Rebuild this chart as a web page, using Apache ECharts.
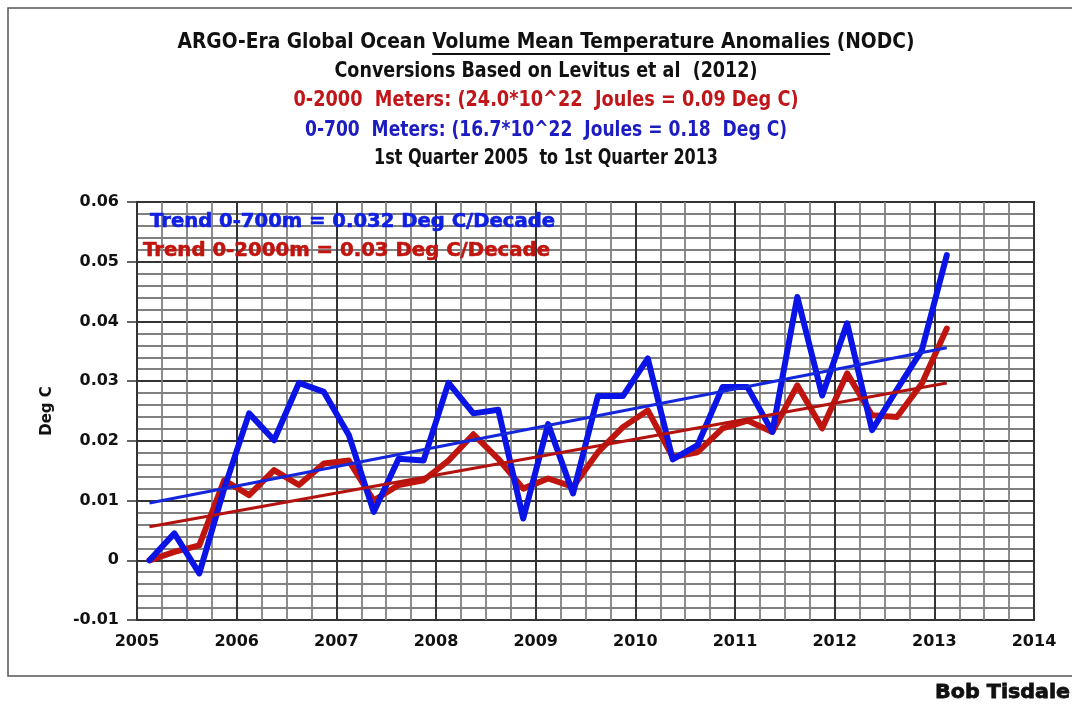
<!DOCTYPE html>
<html><head><meta charset="utf-8">
<script src="https://cdn.jsdelivr.net/npm/echarts@6/dist/echarts.min.js"></script>
<style>html,body{margin:0;padding:0;background:#fff}#c{width:1072px;height:706px}</style>
</head><body><div id="c"></div>
<script>
// Quarter mid-points (decimal years), 1st Quarter 2005 .. 1st Quarter 2013
const quarterYears = [2005.125,2005.375,2005.625,2005.875,2006.125,2006.375,2006.625,2006.875,
  2007.125,2007.375,2007.625,2007.875,2008.125,2008.375,2008.625,2008.875,
  2009.125,2009.375,2009.625,2009.875,2010.125,2010.375,2010.625,2010.875,
  2011.125,2011.375,2011.625,2011.875,2012.125,2012.375,2012.625,2012.875,2013.125];
// 0-700 m volume mean temperature anomaly (Deg C)
const anom700 = [0.000,0.0045,-0.0022,0.012,0.0246,0.0201,0.0297,0.0282,
  0.021,0.0081,0.0170,0.0167,0.0297,0.0246,0.0252,0.0070,
  0.0228,0.0112,0.0275,0.0275,0.0338,0.0169,0.0193,0.0290,
  0.0290,0.0215,0.0441,0.0276,0.0397,0.0218,0.0286,0.0352,0.0511];
// 0-2000 m volume mean temperature anomaly (Deg C)
const anom2000 = [0.000,0.0014,0.0025,0.0134,0.0109,0.0151,0.0126,0.0162,
  0.0167,0.0100,0.0126,0.0134,0.0167,0.0211,0.0170,0.0120,
  0.0137,0.0123,0.0181,0.0223,0.0251,0.0173,0.0181,0.0221,
  0.0234,0.0215,0.0293,0.0221,0.0313,0.0243,0.0240,0.0296,0.0388];
// Linear trend end points
const trendYears = [2005.125, 2013.125];
const trend700 = [0.0096, 0.0356];
const trend2000 = [0.0056, 0.0297];
// Axis ticks
const xTickYears = [2005,2006,2007,2008,2009,2010,2011,2012,2013,2014];
const yTicks = [-0.01,0,0.01,0.02,0.03,0.04,0.05,0.06];

const titleLines = [
  {text:'ARGO-Era Global Ocean Volume Mean Temperature Anomalies (NODC)', color:'#111', w:737, y:42},
  {text:'Conversions Based on Levitus et al  (2012)', color:'#111', w:423, y:71},
  {text:'0-2000  Meters: (24.0*10^22  Joules = 0.09 Deg C)', color:'#c0161a', w:505, y:100},
  {text:'0-700  Meters: (16.7*10^22  Joules = 0.18  Deg C)', color:'#1c1cc0', w:482, y:130},
  {text:'1st Quarter 2005  to 1st Quarter 2013', color:'#111', w:344, y:158}
];
const underlined = 'Volume Mean Temperature Anomalies';

const cv = document.createElement('canvas').getContext('2d');
function measure(text, font){ cv.font = font; return cv.measureText(text).width; }

const TFONT_FAMILY = '"Liberation Sans Narrow", "DejaVu Sans Condensed", "Noto Sans", sans-serif';
const TSIZE = 22;
const tFont = 'bold ' + TSIZE + 'px ' + TFONT_FAMILY;
const cx = 546;

const graphics = [];
titleLines.forEach((l, i) => {
  const mw = measure(l.text, tFont);
  const s = l.w / mw;
  graphics.push({type:'text', x:cx, y:l.y, scaleX:s, silent:true,
    style:{x:0, y:0, text:l.text, fill:l.color, font:tFont, align:'center', verticalAlign:'middle'}});
  if (i === 0) {
    const idx = l.text.indexOf(underlined);
    const pre = measure(l.text.slice(0, idx), tFont) * s;
    const uw = measure(underlined, tFont) * s;
    const x0 = cx - l.w/2 + pre;
    graphics.push({type:'line', silent:true, shape:{x1:x0, y1:l.y+12, x2:x0+uw, y2:l.y+12},
      style:{stroke:'#111', lineWidth:1.8}});
  }
});

const trFont = 'bold 19px "DejaVu Sans", Verdana, sans-serif';
const trendTexts = [
  {text:'Trend 0-700m = 0.032 Deg C/Decade', color:'#1020e0', x:150, y:222, w:405},
  {text:'Trend 0-2000m = 0.03 Deg C/Decade', color:'#c0140f', x:143, y:251, w:407}
];
trendTexts.forEach(t => {
  const s = t.w / measure(t.text, trFont);
  graphics.push({type:'text', x:t.x, y:t.y, scaleX:s, silent:true, z:100,
    style:{x:0, y:0, text:t.text, fill:t.color, font:trFont, align:'left', verticalAlign:'middle',
      stroke:t.color, lineWidth:0.6}});
});

// author
const aFont = 'bold 20px "DejaVu Sans", sans-serif';
const aS = 135 / measure('Bob Tisdale', aFont);
graphics.push({type:'text', x:1070, y:693, scaleX:aS, silent:true,
  style:{x:0, y:0, text:'Bob Tisdale', fill:'#111', font:aFont, align:'right', verticalAlign:'middle',
    stroke:'#111', lineWidth:0.8}});

// frame
graphics.push({type:'polyline', silent:true, shape:{points:[[1072,8],[8,8],[8,676],[1072,676]]},
  style:{stroke:'#555', lineWidth:1.5, fill:null}});

const xy = (xs, ys) => xs.map((x, i) => [x, ys[i]]);

const chart = echarts.init(document.getElementById('c'), null, {renderer:'canvas'});
chart.setOption({
  backgroundColor:'#fff',
  animation:false,
  grid:{left:137, right:38, top:202, bottom:86, show:true, borderColor:'#333', borderWidth:2, backgroundColor:'transparent'},
  xAxis:{
    type:'value', min:xTickYears[0], max:xTickYears[xTickYears.length-1], interval:1,
    axisLine:{show:true, lineStyle:{color:'#333', width:2}},
    axisTick:{show:false},
    axisLabel:{margin:14, color:'#111', fontWeight:'bold', fontSize:16, fontFamily:'"DejaVu Sans", Verdana, sans-serif',
      formatter:v => String(Math.round(v))},
    splitLine:{show:true, lineStyle:{color:'#333', width:2}},
    minorTick:{show:false, splitNumber:4},
    minorSplitLine:{show:true, lineStyle:{color:'#808080', width:1.8}}
  },
  yAxis:{
    type:'value', min:yTicks[0], max:yTicks[yTicks.length-1], interval:0.01,
    name:'Deg C', nameLocation:'middle', nameGap:82, nameRotate:90,
    nameTextStyle:{color:'#111', fontWeight:'bold', fontSize:15, fontFamily:'"DejaVu Sans", Verdana, sans-serif'},
    axisLine:{show:true, lineStyle:{color:'#333', width:2}},
    axisTick:{show:true, length:10, lineStyle:{color:'#333', width:1.5}},
    axisLabel:{margin:18, color:'#111', fontWeight:'bold', fontSize:16, fontFamily:'"DejaVu Sans", Verdana, sans-serif',
      formatter:v => { const r = Math.round(v*100)/100; return r === 0 ? '0' : r.toFixed(2); }},
    splitLine:{show:true, lineStyle:{color:'#333', width:2}},
    minorTick:{show:false, splitNumber:5},
    minorSplitLine:{show:true, lineStyle:{color:'#808080', width:1.8}}
  },
  series:[
    {name:'0-2000m', type:'line', data:xy(quarterYears, anom2000), showSymbol:false, z:3,
      lineStyle:{color:'#c0140f', width:6, join:'round', cap:'round'}},
    {name:'0-700m', type:'line', data:xy(quarterYears, anom700), showSymbol:false, z:4,
      lineStyle:{color:'#0a14e6', width:6, join:'round', cap:'round'}},
    {name:'Trend 0-2000m', type:'line', data:xy(trendYears, trend2000), showSymbol:false, z:5,
      lineStyle:{color:'#b3120e', width:3}},
    {name:'Trend 0-700m', type:'line', data:xy(trendYears, trend700), showSymbol:false, z:5,
      lineStyle:{color:'#1426dc', width:3}}
  ],
  graphic:graphics
});
</script></body></html>
